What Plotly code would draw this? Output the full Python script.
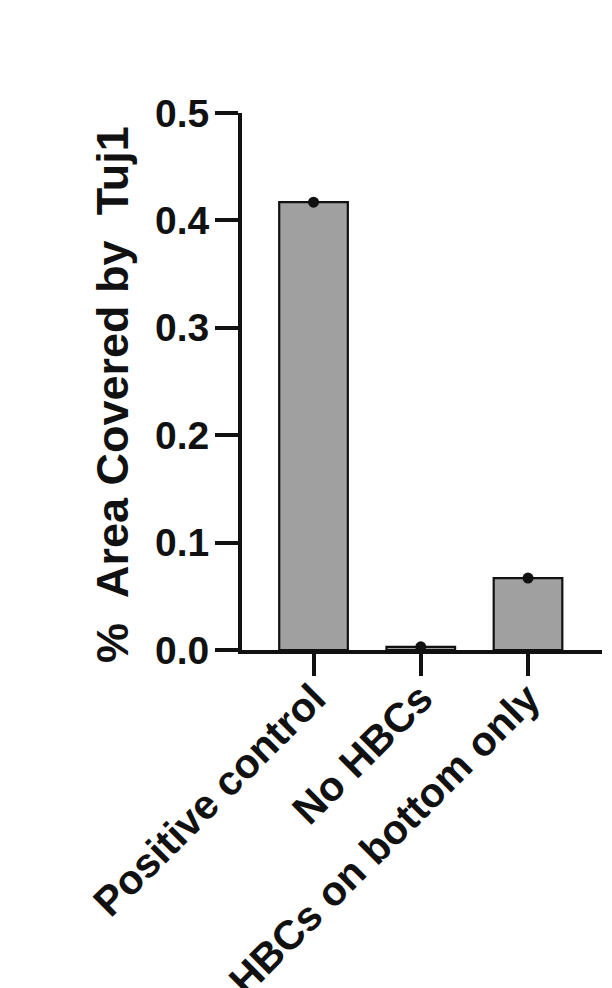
import plotly.graph_objects as go

categories = ["Positive control", "No HBCs", "HBCs on bottom only"]
means = [0.417, 0.003, 0.067]
points = [0.417, 0.003, 0.067]
y_ticks = [0.0, 0.1, 0.2, 0.3, 0.4, 0.5]
y_title = "%\u00a0\u00a0Area Covered by\u00a0\u00a0Tuj1"

FONT = "Liberation Sans, Arial, Helvetica, sans-serif"

fig = go.Figure()
fig.add_trace(go.Bar(
    x=categories, y=means, width=0.64,
    marker=dict(color="#a0a0a0", line=dict(color="#111111", width=2.2)),
    showlegend=False,
))
fig.add_trace(go.Scatter(
    x=categories, y=points, mode="markers",
    marker=dict(color="#111111", size=11),
    showlegend=False, cliponaxis=False,
))

fig.update_layout(
    width=612, height=988,
    margin=dict(l=242, r=10, t=113, b=338, autoexpand=False),
    paper_bgcolor="white", plot_bgcolor="white",
    font=dict(family=FONT, color="#111111"),
    xaxis=dict(
        type="category", range=[-0.667, 2.69],
        showline=True, linecolor="#111111", linewidth=4,
        ticks="outside", ticklen=22, tickwidth=4, tickcolor="#111111",
        tickangle=-45, tickfont=dict(size=41, weight="bold", family=FONT),
        ticklabelstandoff=-18,
        showgrid=False, zeroline=False, automargin=False,
    ),
    yaxis=dict(
        range=[0, 0.5], tickvals=y_ticks, ticktext=[f"{v:.1f}" for v in y_ticks],
        showline=True, linecolor="#111111", linewidth=4,
        ticks="outside", ticklen=23, tickwidth=4, tickcolor="#111111",
        tickfont=dict(size=39, weight="bold", family=FONT),
        ticklabelstandoff=-2,
        showgrid=False, zeroline=False, automargin=False,
    ),
    annotations=[dict(
        text=y_title, textangle=-90, xref="paper", yref="paper",
        x=-0.358, y=0.475, xanchor="center", yanchor="middle",
        showarrow=False, font=dict(size=45, weight="bold", family=FONT, color="#111111"),
    )],
)

fig.write_html(
    "out.html",
    config={"displayModeBar": False},
    post_script="document.body.style.margin='0';document.body.style.overflow='hidden';",
)
